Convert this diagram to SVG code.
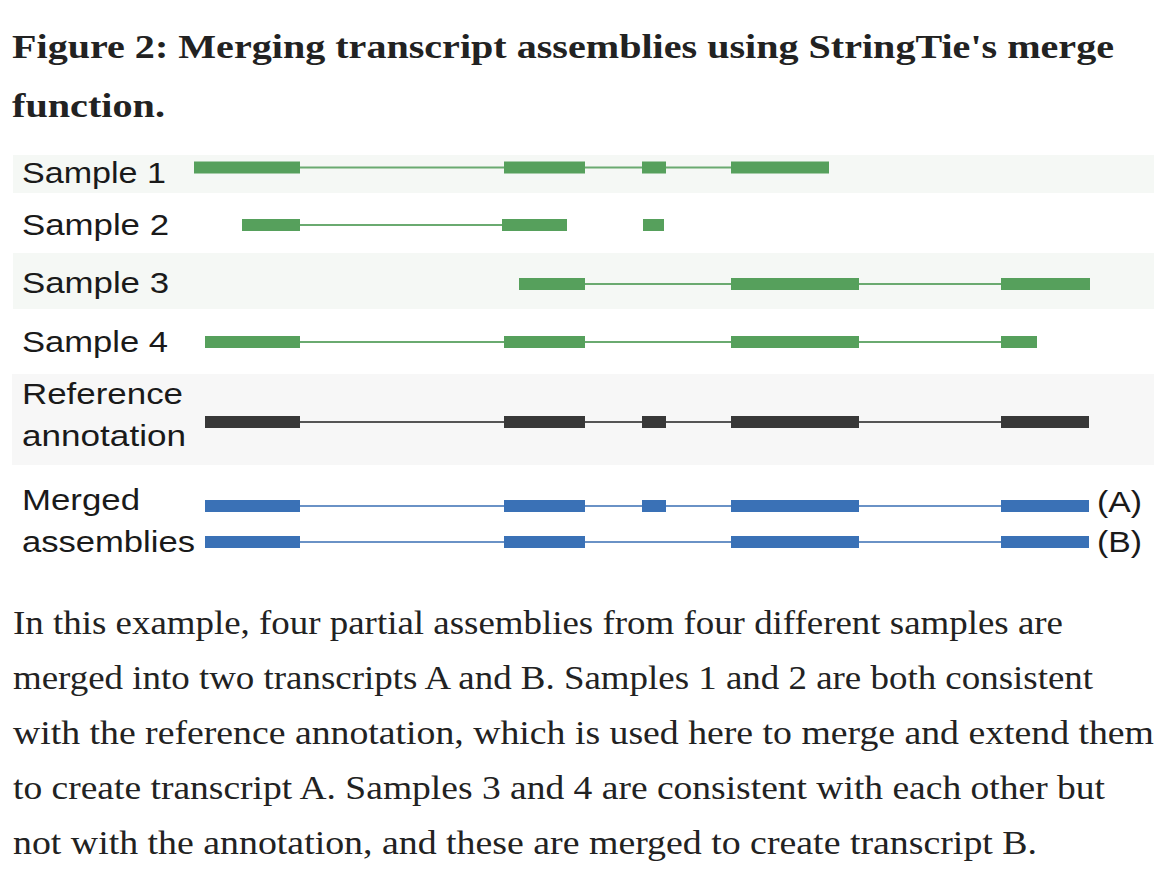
<svg xmlns="http://www.w3.org/2000/svg" width="1168" height="884" viewBox="0 0 1168 884">
<style>
.title{font-family:"Liberation Serif","DejaVu Serif",serif;font-weight:bold;font-size:34px;fill:#222}
.body{font-family:"Liberation Serif","DejaVu Serif",serif;font-size:33px;fill:#222}
.lab{font-family:"Liberation Sans",Arial,sans-serif;font-size:30px;fill:#1a1a1a}
.g rect{fill:#56a05c}
.g line{stroke:#6aaa70;stroke-width:2}
.k rect{fill:#383838}
.k line{stroke:#555;stroke-width:2}
.b rect{fill:#3a71b6}
.b line{stroke:#6a92c6;stroke-width:2}
</style>
<rect width="1168" height="884" fill="#fff"/>
<text class="title" x="12" y="58" textLength="1102" lengthAdjust="spacingAndGlyphs">Figure 2: Merging transcript assemblies using StringTie's merge</text>
<text class="title" x="12" y="117" textLength="153" lengthAdjust="spacingAndGlyphs">function.</text>
<g id="bands">
<rect x="13" y="155" width="1141" height="38" fill="#f5f8f5"/>
<rect x="13" y="253" width="1141" height="56" fill="#f5f8f5"/>
<rect x="12" y="374" width="1142" height="91" fill="#f7f7f7"/>
</g>
<g id="sample1" class="g">
<text class="lab" x="22" y="183" textLength="144" lengthAdjust="spacingAndGlyphs">Sample 1</text>
<line x1="194" y1="167.5" x2="829" y2="167.5"/>
<rect x="194" y="161.5" width="106" height="12"/>
<rect x="504" y="161.5" width="81" height="12"/>
<rect x="642" y="161.5" width="24" height="12"/>
<rect x="731" y="161.5" width="98" height="12"/>
</g>
<g id="sample2" class="g">
<text class="lab" x="22" y="235" textLength="147" lengthAdjust="spacingAndGlyphs">Sample 2</text>
<line x1="242" y1="225" x2="567" y2="225"/>
<rect x="242" y="219" width="58" height="12"/>
<rect x="502" y="219" width="65" height="12"/>
<rect x="643" y="219" width="21" height="12"/>
</g>
<g id="sample3" class="g">
<text class="lab" x="22" y="293" textLength="147" lengthAdjust="spacingAndGlyphs">Sample 3</text>
<line x1="519" y1="284" x2="1090" y2="284"/>
<rect x="519" y="278" width="66" height="12"/>
<rect x="731" y="278" width="128" height="12"/>
<rect x="1001" y="278" width="89" height="12"/>
</g>
<g id="sample4" class="g">
<text class="lab" x="22" y="352" textLength="146" lengthAdjust="spacingAndGlyphs">Sample 4</text>
<line x1="205" y1="342" x2="1037" y2="342"/>
<rect x="205" y="336" width="95" height="12"/>
<rect x="504" y="336" width="81" height="12"/>
<rect x="731" y="336" width="128" height="12"/>
<rect x="1001" y="336" width="36" height="12"/>
</g>
<g id="reference" class="k">
<text class="lab" x="22" y="404" textLength="161" lengthAdjust="spacingAndGlyphs">Reference</text>
<text class="lab" x="22" y="446" textLength="164" lengthAdjust="spacingAndGlyphs">annotation</text>
<line x1="205" y1="422" x2="1089" y2="422"/>
<rect x="205" y="416" width="95" height="12"/>
<rect x="504" y="416" width="81" height="12"/>
<rect x="642" y="416" width="24" height="12"/>
<rect x="731" y="416" width="128" height="12"/>
<rect x="1001" y="416" width="88" height="12"/>
</g>
<g id="mergedA" class="b">
<text class="lab" x="22" y="510" textLength="118" lengthAdjust="spacingAndGlyphs">Merged</text>
<line x1="205" y1="506" x2="1089" y2="506"/>
<rect x="205" y="500" width="95" height="12"/>
<rect x="504" y="500" width="81" height="12"/>
<rect x="642" y="500" width="24" height="12"/>
<rect x="731" y="500" width="128" height="12"/>
<rect x="1001" y="500" width="88" height="12"/>
<text class="lab" x="1097" y="512" textLength="45" lengthAdjust="spacingAndGlyphs">(A)</text>
</g>
<g id="mergedB" class="b">
<text class="lab" x="22" y="552" textLength="173" lengthAdjust="spacingAndGlyphs">assemblies</text>
<line x1="205" y1="542" x2="1089" y2="542"/>
<rect x="205" y="536" width="95" height="12"/>
<rect x="504" y="536" width="81" height="12"/>
<rect x="731" y="536" width="128" height="12"/>
<rect x="1001" y="536" width="88" height="12"/>
<text class="lab" x="1097" y="552" textLength="45" lengthAdjust="spacingAndGlyphs">(B)</text>
</g>
<g id="connectors"/>
<g id="caption">
<text class="body" x="13" y="634" textLength="1050" lengthAdjust="spacingAndGlyphs">In this example, four partial assemblies from four different samples are</text>
<text class="body" x="13" y="689" textLength="1080" lengthAdjust="spacingAndGlyphs">merged into two transcripts A and B. Samples 1 and 2 are both consistent</text>
<text class="body" x="13" y="744" textLength="1141" lengthAdjust="spacingAndGlyphs">with the reference annotation, which is used here to merge and extend them</text>
<text class="body" x="13" y="799" textLength="1092" lengthAdjust="spacingAndGlyphs">to create transcript A. Samples 3 and 4 are consistent with each other but</text>
<text class="body" x="13" y="854" textLength="1024" lengthAdjust="spacingAndGlyphs">not with the annotation, and these are merged to create transcript B.</text>
</g>
</svg>
